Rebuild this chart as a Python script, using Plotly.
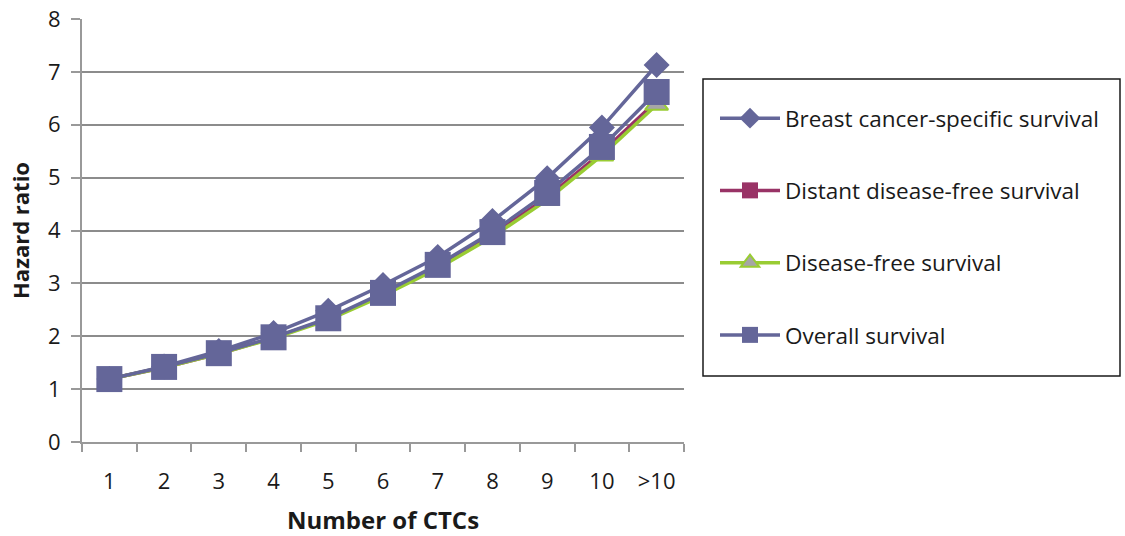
import plotly.graph_objects as go

categories = ["1", "2", "3", "4", "5", "6", "7", "8", "9", "10", ">10"]
breast_cancer_specific = [1.19, 1.43, 1.72, 2.06, 2.48, 2.97, 3.50, 4.18, 4.99, 5.95, 7.13]
distant_disease_free = [1.19, 1.41, 1.67, 1.97, 2.33, 2.79, 3.31, 3.92, 4.63, 5.48, 6.45]
disease_free = [1.19, 1.41, 1.67, 1.96, 2.31, 2.77, 3.28, 3.88, 4.58, 5.42, 6.38]
overall = [1.19, 1.42, 1.68, 1.98, 2.34, 2.82, 3.35, 3.97, 4.71, 5.58, 6.62]

blue = "#646699"
red = "#993366"
green = "#99CC33"

fig = go.Figure()
fig.add_trace(go.Scatter(x=categories, y=breast_cancer_specific, name="Breast cancer-specific survival",
                         mode="lines+markers", legendgroup="a",
                         line=dict(color=blue, width=3.5),
                         marker=dict(symbol="diamond", size=20, color=blue)))
fig.add_trace(go.Scatter(x=categories, y=distant_disease_free, name="Distant disease-free survival",
                         mode="lines+markers", legendgroup="b",
                         line=dict(color=red, width=3.5),
                         marker=dict(symbol="square", size=16, color=red)))
fig.add_trace(go.Scatter(x=categories, y=disease_free, name="Disease-free survival",
                         mode="lines+markers", legendgroup="c",
                         line=dict(color=green, width=3.5),
                         marker=dict(symbol="triangle-up", size=20, color="#A6A6A6",
                                     line=dict(color=green, width=2))))
fig.add_trace(go.Scatter(x=categories, y=overall, name="Overall survival",
                         mode="lines+markers", legendgroup="d",
                         line=dict(color=blue, width=3.5),
                         marker=dict(symbol="square", size=26, color=blue)))

font_family = "Open Sans, Liberation Sans, sans-serif"
L, R, T, B = 82, 684, 19, 442
pw, ph = R - L, B - T

def px_x(v):
    return (v - L) / pw

def px_y(v):
    return (B - v) / ph

fig.update_layout(
    width=1125, height=536,
    margin=dict(l=L, r=1125 - R, t=T, b=536 - B),
    paper_bgcolor="white", plot_bgcolor="white",
    font=dict(family=font_family, size=22, color="#1a1a1a"),
    showlegend=True,
    legend=dict(x=px_x(715), y=px_y(97), xanchor="left", yanchor="top",
                borderwidth=0, bgcolor="rgba(0,0,0,0)",
                font=dict(size=22.5, family=font_family),
                tracegroupgap=40, itemwidth=60, traceorder="grouped"),
    shapes=[dict(type="rect", xref="paper", yref="paper",
                 x0=px_x(703), x1=px_x(1120), y0=px_y(376), y1=px_y(79),
                 line=dict(color="#1a1a1a", width=1.5), fillcolor="rgba(0,0,0,0)", layer="above")],
    xaxis=dict(type="category", range=[-0.5, len(categories) - 0.5],
               showgrid=False, showline=True, linecolor="#999999", linewidth=2,
               ticks="outside", tickson="boundaries", ticklen=8, tickcolor="#999999", tickwidth=2,
               ticklabelstandoff=19, automargin=False,
               tickfont=dict(size=22),
               title=dict(text="<b>Number of CTCs</b>", font=dict(size=24), standoff=30),
               zeroline=False),
    yaxis=dict(range=[0, 8], dtick=1, showgrid=True, gridcolor="#8c8c8c", gridwidth=2,
               showline=True, linecolor="#999999", linewidth=2, automargin=False,
               ticks="outside", ticklen=9, tickcolor="#999999", tickwidth=2,
               ticklabelstandoff=6, tickfont=dict(size=22),
               title=dict(text="<b>Hazard ratio</b>", font=dict(size=22), standoff=12),
               zeroline=False),
)

fig.write_html("out.html", config={"displayModeBar": False},
               post_script="document.body.style.margin='0';")
